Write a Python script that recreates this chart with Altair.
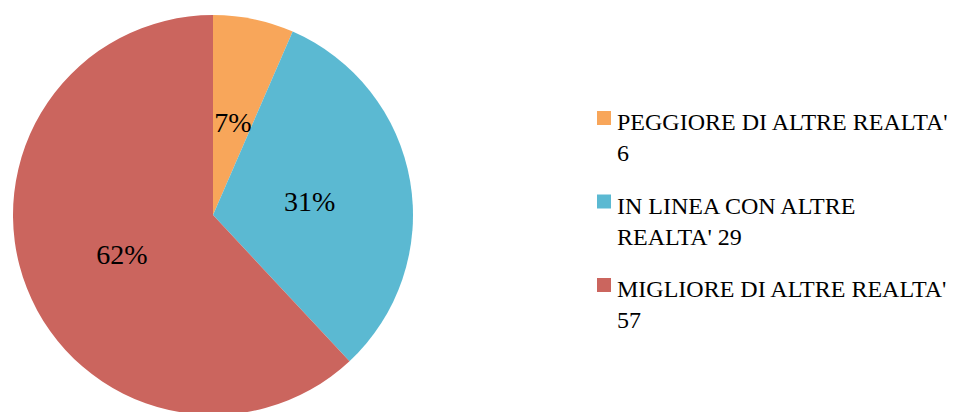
import altair as alt
import pandas as pd

categories = ["PEGGIORE DI ALTRE REALTA'", "IN LINEA CON ALTRE REALTA'", "MIGLIORE DI ALTRE REALTA'"]
values = [6, 29, 57]
pct_labels = ["7%", "31%", "62%"]
legend_labels = ["PEGGIORE DI ALTRE REALTA'\n6", "IN LINEA CON ALTRE\nREALTA' 29", "MIGLIORE DI ALTRE REALTA'\n57"]
colors = ["#F8A65A", "#5BB9D2", "#CB655E"]

df = pd.DataFrame({
    "cat": categories,
    "val": values,
    "pct": pct_labels,
    "leg": legend_labels,
    "idx": list(range(len(categories))),
})

color = alt.Color("cat:N", scale=alt.Scale(domain=categories, range=colors), legend=None)

base = alt.Chart(df).encode(
    theta=alt.Theta("val:Q", stack=True),
    order=alt.Order("idx:Q"),
)
arcs = base.mark_arc(outerRadius=200).encode(color=color)
labels = base.mark_text(radius=98, dy=5, font="Liberation Serif", fontSize=28).encode(
    text="pct:N", color=alt.value("black")
)
pie = (arcs + labels).properties(width=400, height=400)

leg_base = alt.Chart(df).encode(
    y=alt.Y("cat:N", axis=None,
            scale=alt.Scale(type="point", domain=categories, range=[103, 270], padding=0))
)
squares = leg_base.mark_square(size=196, opacity=1).encode(x=alt.value(7), color=color)
texts = leg_base.mark_text(
    align="left", baseline="alphabetic", dy=12, lineBreak="\n", lineHeight=31,
    font="Liberation Serif", fontSize=24, color="black"
).encode(x=alt.value(20), text="leg:N")
legend = (squares + texts).properties(width=330, height=400)

chart = alt.hconcat(pie, legend, spacing=184).properties(
    padding={"left": 5, "top": 7, "right": 0, "bottom": 0}
).configure_view(stroke=None)

chart.save("out.html", embed_options={"renderer": "svg", "actions": False})
